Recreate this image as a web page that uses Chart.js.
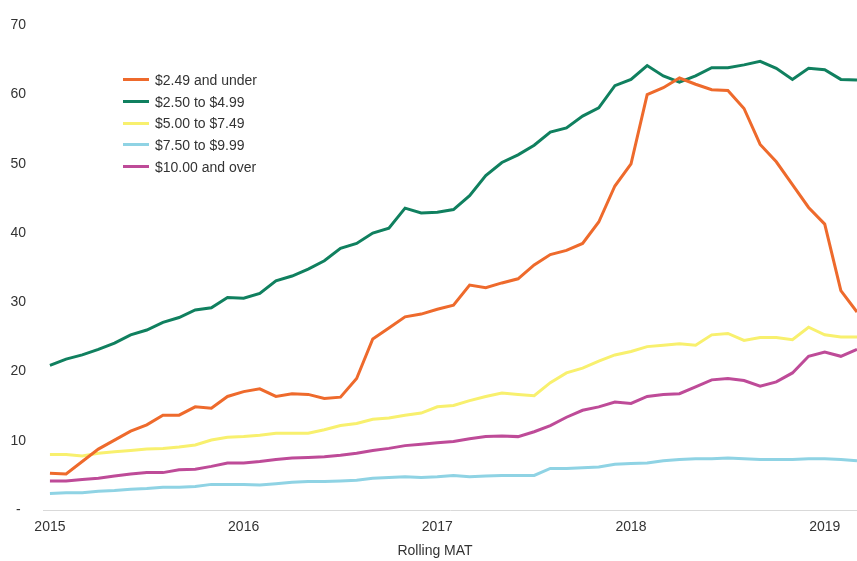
<!DOCTYPE html>
<html>
<head>
<meta charset="utf-8">
<script src="https://cdn.jsdelivr.net/npm/chart.js@4/dist/chart.umd.min.js"></script>
<style>
  html, body { margin: 0; padding: 0; background: #fff; overflow: hidden; }
  #wrap { position: relative; width: 857px; height: 561px; }
  #legend { position: absolute; left: 123px; top: 69px; font: 14px "Liberation Sans", Arial, sans-serif; color: #333; }
  .row { display: flex; align-items: center; height: 21.7px; white-space: nowrap; }
  .swatch { width: 26px; height: 3px; margin-right: 6px; }
  #xtitle { position: absolute; left: 435px; top: 542px; transform: translateX(-50%); font: 14px/16px "Liberation Sans", Arial, sans-serif; color: #333; white-space: nowrap; }
</style>
</head>
<body>
<div id="wrap">
  <canvas id="chart" width="857" height="561"></canvas>
  <div id="legend"></div>
  <div id="xtitle"></div>
</div>
<script>
const months = [
  "Jan 15","Feb 15","Mar 15","Apr 15","May 15","Jun 15","Jul 15","Aug 15","Sep 15","Oct 15","Nov 15","Dec 15",
  "Jan 16","Feb 16","Mar 16","Apr 16","May 16","Jun 16","Jul 16","Aug 16","Sep 16","Oct 16","Nov 16","Dec 16",
  "Jan 17","Feb 17","Mar 17","Apr 17","May 17","Jun 17","Jul 17","Aug 17","Sep 17","Oct 17","Nov 17","Dec 17",
  "Jan 18","Feb 18","Mar 18","Apr 18","May 18","Jun 18","Jul 18","Aug 18","Sep 18","Oct 18","Nov 18","Dec 18",
  "Jan 19","Feb 19","Mar 19"
];
const yearTicks = ["2015","2016","2017","2018","2019"];
const yTicks = [0,10,20,30,40,50,60,70];
const xTitle = "Rolling MAT";

const seriesNames = ["$2.49 and under","$2.50 to $4.99","$5.00 to $7.49","$7.50 to $9.99","$10.00 and over"];
const seriesColors = ["#EE6A2C","#10805F","#F8F06E","#8FD3E4","#BE4B98"];

const under249 = [5.3,5.2,7.0,8.8,10.1,11.4,12.3,13.7,13.7,14.9,14.7,16.4,17.1,17.5,16.4,16.8,16.7,16.1,16.3,19.0,
  24.7,26.3,27.9,28.3,29.0,29.6,32.5,32.1,32.8,33.4,35.4,36.9,37.5,38.5,41.6,46.8,50.0,60.0,61.0,62.4,
  61.5,60.7,60.6,58.0,52.8,50.3,47.0,43.7,41.3,31.7,28.6];
const from250 = [20.9,21.8,22.4,23.2,24.1,25.3,26.0,27.1,27.8,28.9,29.2,30.7,30.6,31.3,33.1,33.8,34.8,36.0,37.8,38.5,
  40.0,40.7,43.6,42.9,43.0,43.4,45.4,48.3,50.2,51.3,52.7,54.6,55.2,56.9,58.1,61.3,62.2,64.2,62.7,61.8,
  62.7,63.9,63.9,64.3,64.8,63.8,62.2,63.8,63.6,62.2,62.1];
const from500 = [8.0,8.0,7.8,8.2,8.4,8.6,8.8,8.9,9.1,9.4,10.1,10.5,10.6,10.8,11.1,11.1,11.1,11.6,12.2,12.5,
  13.1,13.3,13.7,14.0,14.9,15.1,15.8,16.4,16.9,16.7,16.5,18.4,19.8,20.5,21.5,22.4,22.9,23.6,23.8,24.0,
  23.8,25.3,25.5,24.5,24.9,24.9,24.6,26.4,25.3,25.0,25.0];
const from750 = [2.4,2.5,2.5,2.7,2.8,3.0,3.1,3.3,3.3,3.4,3.7,3.7,3.7,3.6,3.8,4.0,4.1,4.1,4.2,4.3,
  4.6,4.7,4.8,4.7,4.8,5.0,4.8,4.9,5.0,5.0,5.0,6.0,6.0,6.1,6.2,6.6,6.7,6.8,7.1,7.3,
  7.4,7.4,7.5,7.4,7.3,7.3,7.3,7.4,7.4,7.3,7.1];
const over1000 = [4.2,4.2,4.4,4.6,4.9,5.2,5.4,5.4,5.8,5.9,6.3,6.8,6.8,7.0,7.3,7.5,7.6,7.7,7.9,8.2,
  8.6,8.9,9.3,9.5,9.7,9.9,10.3,10.6,10.7,10.6,11.3,12.2,13.4,14.4,14.9,15.6,15.4,16.4,16.7,16.8,
  17.8,18.8,19.0,18.7,17.9,18.5,19.8,22.2,22.8,22.2,23.2];

const allSeries = [under249, from250, from500, from750, over1000];
const yearIdx = months.map((m, i) => m.startsWith("Jan") ? i : -1).filter(i => i >= 0);

const FONT = { family: "'Liberation Sans', Arial, sans-serif", size: 14 };

const datasets = allSeries.map((vals, k) => ({
  label: seriesNames[k],
  data: vals.map((v, i) => ({ x: i, y: v })),
  borderColor: seriesColors[k],
  backgroundColor: seriesColors[k],
  borderWidth: 3,
  pointRadius: 0,
  tension: 0,
  fill: false,
  order: k
}));

new Chart(document.getElementById("chart"), {
  type: "line",
  data: { datasets },
  options: {
    responsive: false,
    animation: false,
    layout: { padding: { left: 10, right: 0, top: 6, bottom: 0 } },
    plugins: { legend: { display: false }, tooltip: { enabled: false } },
    scales: {
      x: {
        type: "linear",
        min: -0.43,
        max: months.length - 1,
        grid: { display: false, drawTicks: false },
        border: { display: true, color: "#D9D9D9", width: 1 },
        afterBuildTicks: s => { s.ticks = yearIdx.map(v => ({ value: v })); },
        afterFit: s => { s.height = 51; },
        ticks: {
          autoSkip: false,
          maxRotation: 0,
          padding: 9,
          color: "#333",
          font: FONT,
          callback: v => yearTicks[yearIdx.indexOf(v)]
        }
      },
      y: {
        min: 0,
        max: 70,
        afterBuildTicks: s => { s.ticks = yTicks.map(v => ({ value: v })); },
        afterFit: s => { s.width = 33; },
        grid: { display: false, drawTicks: false },
        border: { display: false },
        ticks: {
          padding: 17,
          crossAlign: "center",
          color: "#333",
          font: FONT,
          callback: v => v === 0 ? "-" : String(v)
        }
      }
    }
  }
});

// legend and axis title as html over the canvas
const legend = document.getElementById("legend");
seriesNames.forEach((name, k) => {
  const row = document.createElement("div");
  row.className = "row";
  const sw = document.createElement("span");
  sw.className = "swatch";
  sw.style.background = seriesColors[k];
  const tx = document.createElement("span");
  tx.textContent = name;
  row.appendChild(sw);
  row.appendChild(tx);
  legend.appendChild(row);
});
document.getElementById("xtitle").textContent = xTitle;
</script>
</body>
</html>
